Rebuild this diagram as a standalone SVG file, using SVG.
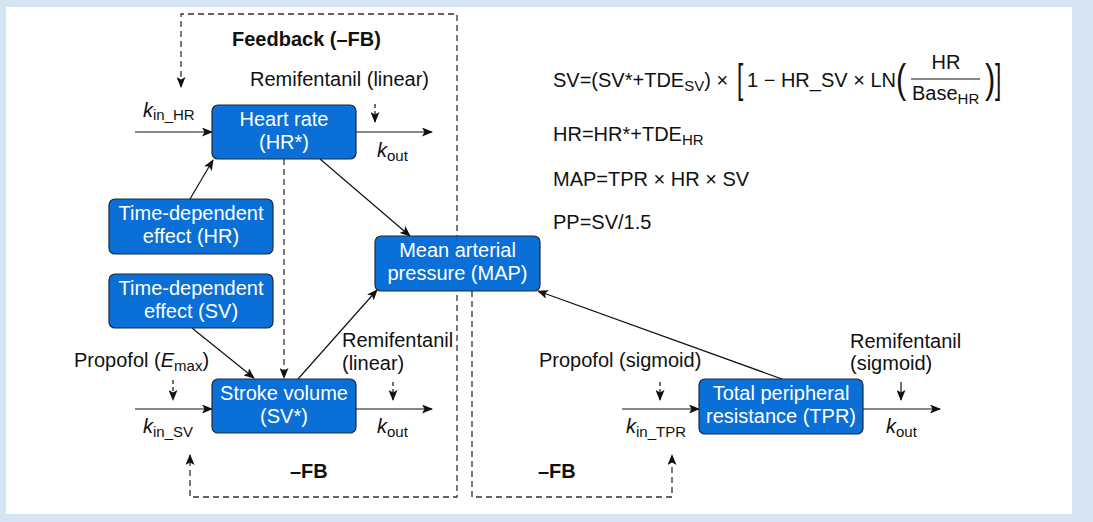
<svg xmlns="http://www.w3.org/2000/svg" width="1093" height="522" viewBox="0 0 1093 522">
<defs>
<style>
.t{font-family:"Liberation Sans",Arial,sans-serif;font-size:20px;fill:#111}
.b{font-weight:bold}
.n{font-family:"Liberation Sans",Arial,sans-serif;font-size:20px;fill:#fff;text-anchor:middle}
.box{fill:#0a6fd6;stroke:#1b2a3c;stroke-width:1.2}
.c{fill:none;stroke:#111;stroke-width:1.2}
.d{fill:none;stroke:#333;stroke-width:1.3;stroke-dasharray:6 4}
.ds{fill:none;stroke:#111;stroke-width:1.2;stroke-dasharray:4 3}
.i{font-style:italic}
</style>
<marker id="ah" markerWidth="11" markerHeight="9" refX="10" refY="4.5" orient="auto-start-reverse" markerUnits="userSpaceOnUse">
<path d="M0,0 L11,4.5 L0,9 L2.5,4.5 z" fill="#111"/>
</marker>
</defs>
<rect x="0" y="0" width="1093" height="522" fill="#d6e3f3"/>
<rect x="6" y="7" width="1066" height="507" fill="#fff"/>

<g id="connectors">
<path class="d" d="M181,87 V14 H457 V497 H190 V455" marker-start="url(#ah)" marker-end="url(#ah)"/>
<path class="d" d="M472,291 V497 H672 V455" marker-end="url(#ah)"/>
<path class="d" d="M284,159 V378" marker-end="url(#ah)"/>
<path class="c" d="M135,132 H212" marker-end="url(#ah)"/>
<path class="c" d="M356,132 H432" marker-end="url(#ah)"/>
<path class="c" d="M135,409 H212" marker-end="url(#ah)"/>
<path class="c" d="M356,409 H432" marker-end="url(#ah)"/>
<path class="c" d="M622,409 H699" marker-end="url(#ah)"/>
<path class="c" d="M863,409 H940" marker-end="url(#ah)"/>
<path class="ds" d="M375,104 V122" marker-end="url(#ah)"/>
<path class="ds" d="M173,380 V400" marker-end="url(#ah)"/>
<path class="ds" d="M393,382 V400" marker-end="url(#ah)"/>
<path class="ds" d="M660,382 V400" marker-end="url(#ah)"/>
<path class="c" d="M901,382 V400" marker-end="url(#ah)"/>
<path class="c" d="M190,199 L213,160" marker-end="url(#ah)"/>
<path class="c" d="M192,328 L254,378" marker-end="url(#ah)"/>
<path class="c" d="M320,159 L410,236" marker-end="url(#ah)"/>
<path class="c" d="M298,379 L377,290" marker-end="url(#ah)"/>
<path class="c" d="M782,379 L538,291" marker-end="url(#ah)"/>
</g>

<g id="heart-rate">
<rect class="box" x="212" y="105" width="144" height="54" rx="6"/>
<text class="n" x="284" y="126">Heart rate</text>
<text class="n" x="284" y="149">(HR*)</text>
</g>
<g id="tde-hr">
<rect class="box" x="109" y="199" width="164" height="55" rx="6"/>
<text class="n" x="191" y="220">Time-dependent</text>
<text class="n" x="191" y="243">effect (HR)</text>
</g>
<g id="tde-sv">
<rect class="box" x="109" y="274" width="164" height="54" rx="6"/>
<text class="n" x="191" y="295">Time-dependent</text>
<text class="n" x="191" y="318">effect (SV)</text>
</g>
<g id="map">
<rect class="box" x="375" y="236" width="165" height="55" rx="6"/>
<text class="n" x="457.5" y="257">Mean arterial</text>
<text class="n" x="457.5" y="280">pressure (MAP)</text>
</g>
<g id="stroke-volume">
<rect class="box" x="212" y="379" width="144" height="54" rx="6"/>
<text class="n" x="284" y="400">Stroke volume</text>
<text class="n" x="284" y="423">(SV*)</text>
</g>
<g id="tpr">
<rect class="box" x="699" y="379" width="164" height="55" rx="6"/>
<text class="n" x="781" y="400">Total peripheral</text>
<text class="n" x="781" y="423">resistance (TPR)</text>
</g>

<g id="labels">
<text class="t b" x="232" y="46">Feedback (–FB)</text>
<text class="t" x="250" y="86">Remifentanil (linear)</text>
<text class="t" x="143" y="117"><tspan class="i">k</tspan><tspan font-size="15" dy="3">in_HR</tspan></text>
<text class="t" x="377" y="157"><tspan class="i">k</tspan><tspan font-size="15" dy="4">out</tspan></text>
<text class="t" x="342" y="347">Remifentanil</text>
<text class="t" x="342" y="370">(linear)</text>
<text class="t" x="74" y="367">Propofol (<tspan class="i">E</tspan><tspan font-size="15" dy="4">max</tspan><tspan dy="-4">)</tspan></text>
<text class="t" x="143" y="433"><tspan class="i">k</tspan><tspan font-size="15" dy="4">in_SV</tspan></text>
<text class="t" x="377" y="433"><tspan class="i">k</tspan><tspan font-size="15" dy="4">out</tspan></text>
<text class="t b" x="290" y="478">–FB</text>
<text class="t" x="539" y="367">Propofol (sigmoid)</text>
<text class="t" x="850" y="348">Remifentanil</text>
<text class="t" x="850" y="370">(sigmoid)</text>
<text class="t" x="626" y="433"><tspan class="i">k</tspan><tspan font-size="15" dy="4">in_TPR</tspan></text>
<text class="t" x="886" y="433"><tspan class="i">k</tspan><tspan font-size="15" dy="4">out</tspan></text>
<text class="t b" x="538" y="478">–FB</text>
</g>

<g id="equations">
<text class="t" x="553" y="87">SV=(SV*+TDE<tspan font-size="15" dy="4">SV</tspan><tspan dy="-4">) × </tspan></text>
<text class="t" font-size="41" transform="translate(737,93) scale(0.55,1)" style="font-size:41px">[</text>
<text class="t" x="747" y="87">1 − HR_SV × LN</text>
<text class="t" transform="translate(896,93) scale(0.75,1)" style="font-size:41px">(</text>
<text class="t" x="946" y="69" text-anchor="middle">HR</text>
<line x1="911" y1="79" x2="980" y2="79" stroke="#111" stroke-width="1.2"/>
<text class="t" x="912" y="100">Base<tspan font-size="15" dy="4">HR</tspan></text>
<text class="t" transform="translate(985,93) scale(0.75,1)" style="font-size:41px">)</text>
<text class="t" transform="translate(995,93) scale(0.55,1)" style="font-size:41px">]</text>
<text class="t" x="553" y="141">HR=HR*+TDE<tspan font-size="15" dy="4">HR</tspan></text>
<text class="t" x="553" y="186">MAP=TPR × HR × SV</text>
<text class="t" x="553" y="229">PP=SV/1.5</text>
</g>
</svg>
